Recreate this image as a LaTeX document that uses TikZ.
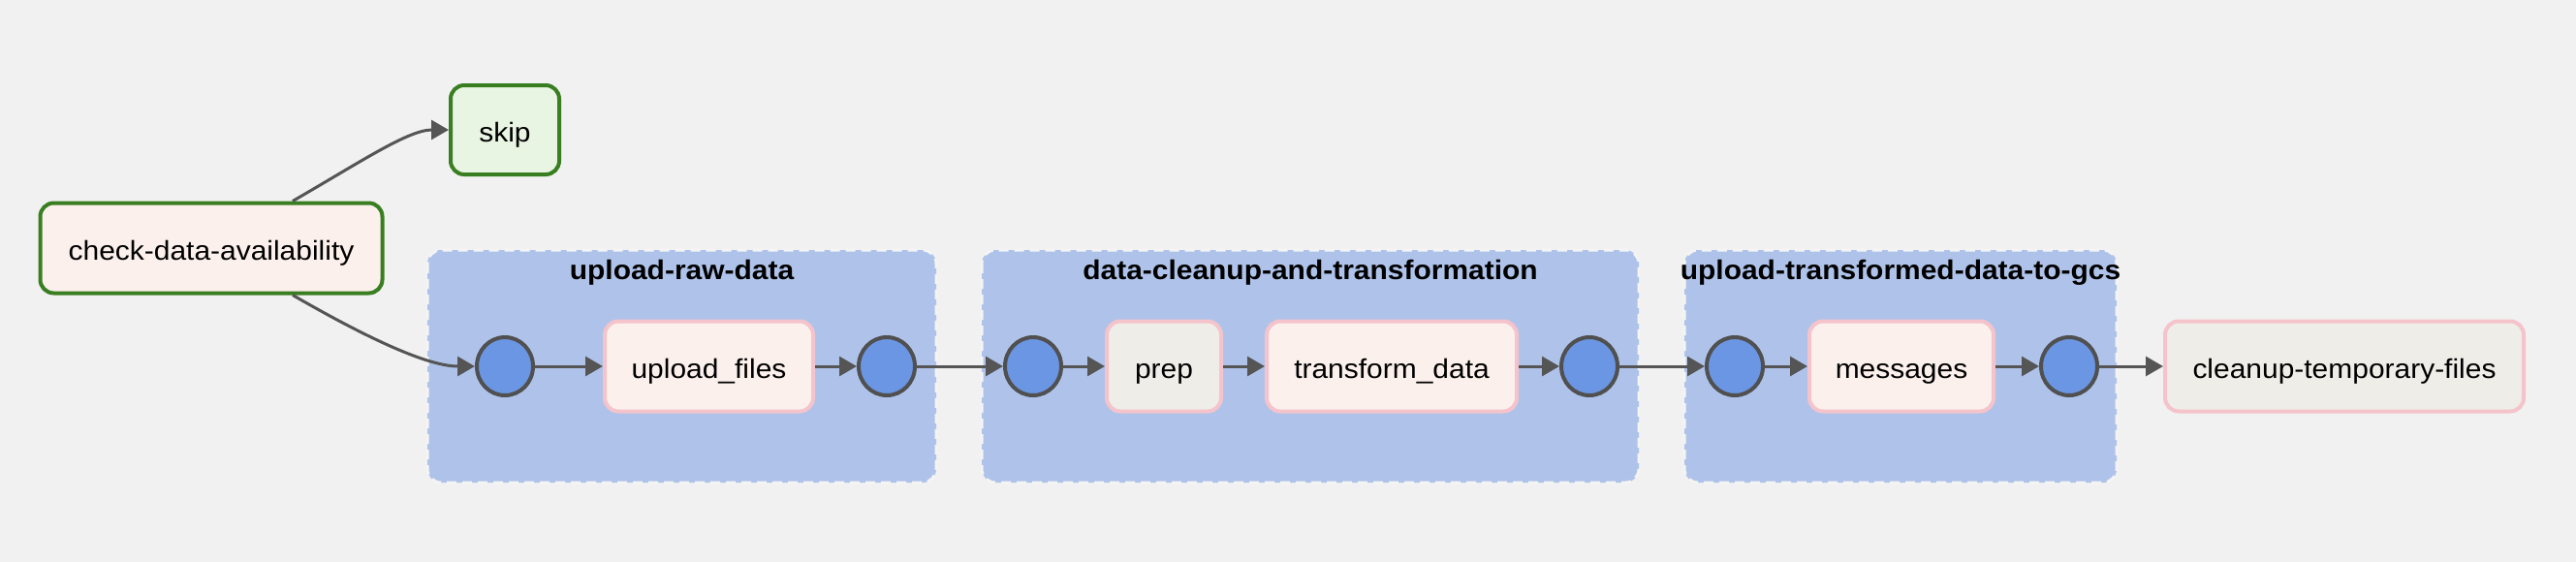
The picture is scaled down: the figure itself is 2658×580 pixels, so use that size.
\documentclass[tikz,border=0pt]{standalone}
\usepackage{fontspec}
\setmainfont[FakeStretch=1.07]{Liberation Sans}
\usetikzlibrary{positioning,shapes.geometric,arrows.meta}
\definecolor{bgcol}{HTML}{F1F1F1}
\definecolor{grpcol}{HTML}{AFC3EA}
\definecolor{grpline}{HTML}{F4F4F4}
\definecolor{dotcol}{HTML}{6B96E3}
\definecolor{dotline}{HTML}{505050}
\definecolor{flowcol}{HTML}{555555}
\definecolor{pinkline}{HTML}{F4C3CB}
\definecolor{greenline}{HTML}{3A7E22}
\definecolor{taskfill}{HTML}{FBF0EC}
\definecolor{greyfill}{HTML}{EFEDE7}
\definecolor{skipfill}{HTML}{E9F5E3}
\tikzset{
  task/.style={draw=pinkline, line width=2pt, fill=taskfill, rounded corners=7pt,
    minimum height=46.5pt, inner xsep=0pt, text height=14pt, text depth=1.5pt,
    font=\fontsize{14}{16}\selectfont},
  greytask/.style={task, fill=greyfill},
  checktask/.style={task, draw=greenline},
  skiptask/.style={task, draw=greenline, fill=skipfill, minimum height=46pt},
  dot/.style={ellipse, draw=dotline, line width=2pt, fill=dotcol,
    minimum width=29pt, minimum height=30pt, inner sep=0pt},
  grp/.style={fill=grpcol, draw=grpline, line width=1.5pt,
    dash pattern=on 5pt off 3pt, rounded corners=7pt},
  grptitle/.style={anchor=base, font=\fontsize{14}{16}\selectfont\bfseries},
  flow/.style={draw=flowcol, line width=1.5pt, -{Triangle[length=9pt,width=10pt]}}
}
\begin{document}
\begin{tikzpicture}[x=0.5pt,y=-0.5pt]
  \fill[bgcol] (0,0) rectangle (2658,580);
  % task groups
  \path[grp] (441,258) rectangle (966,498);
  \path[grp] (1013,258) rectangle (1691,498);
  \path[grp] (1738,258) rectangle (2184,498);
  \node[grptitle] (t1) at (703.5,288) {upload-raw-data};
  \node[grptitle] (t2) at (1352,288) {data-cleanup-and-transformation};
  \node[grptitle] (t3) at (1961,288) {upload-transformed-data-to-gcs};

  % tasks
  \node[checktask, minimum width=176.5pt] (chk) at (218,256) {check-data-availability};
  \node[skiptask, minimum width=56pt] (skip) at (521,134) {skip};
  \node[dot] (c1) at (521,378) {};
  \node[task, minimum width=107.5pt] (upl) [right=35pt of c1] {upload\_files};
  \node[dot] (c2) [right=21.5pt of upl] {};
  \node[dot] (c3) [right=44.5pt of c2] {};
  \node[greytask, minimum width=59pt] (prep) [right=21.5pt of c3] {prep};
  \node[task, minimum width=129pt] (tra) [right=21.5pt of prep] {transform\_data};
  \node[dot] (c4) [right=21pt of tra] {};
  \node[dot] (c5) [right=44pt of c4] {};
  \node[task, minimum width=95pt] (msg) [right=22pt of c5] {messages};
  \node[dot] (c6) [right=22.5pt of msg] {};
  \node[greytask, minimum width=185pt] (cln) [right=33pt of c6] {cleanup-temporary-files};

  \draw[flow] (chk) to[out=30,in=180,out looseness=1.2,in looseness=0.6] (skip);
  \draw[flow] (chk) to[out=-30,in=180,out looseness=1.2,in looseness=0.6] (c1);
  \draw[flow] (c1) -- (upl);
  \draw[flow] (upl) -- (c2);
  \draw[flow] (c2) -- (c3);
  \draw[flow] (c3) -- (prep);
  \draw[flow] (prep) -- (tra);
  \draw[flow] (tra) -- (c4);
  \draw[flow] (c4) -- (c5);
  \draw[flow] (c5) -- (msg);
  \draw[flow] (msg) -- (c6);
  \draw[flow] (c6) -- (cln);
\end{tikzpicture}
\end{document}
